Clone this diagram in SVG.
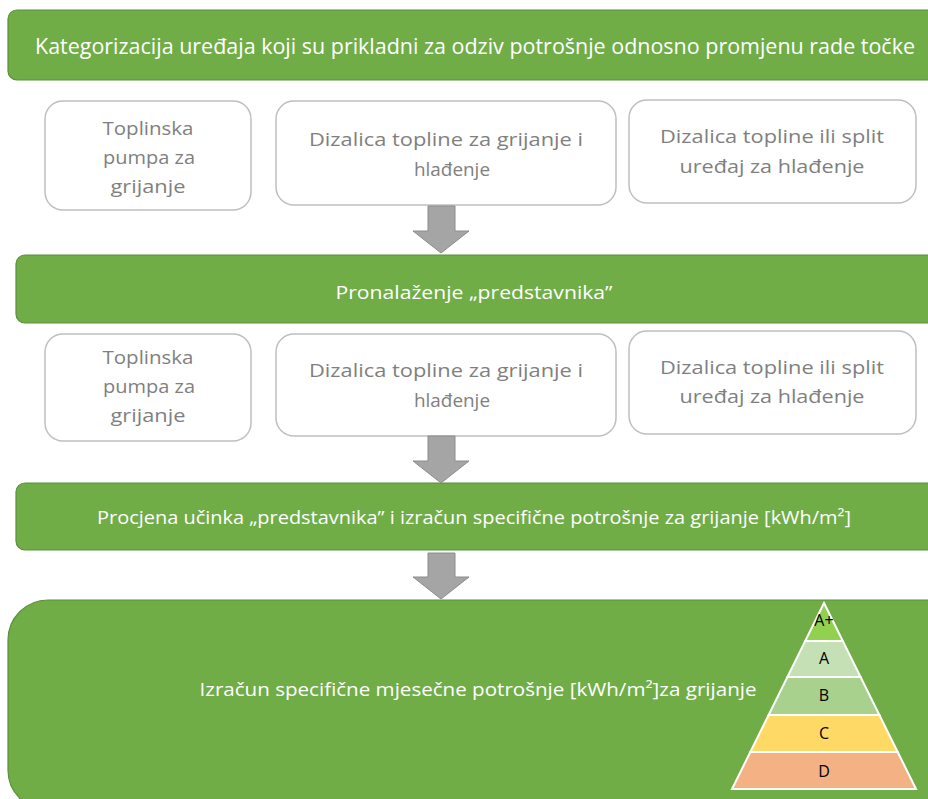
<svg xmlns="http://www.w3.org/2000/svg" width="928" height="799" viewBox="0 0 928 799">
<style>
.bar{fill:#70ad47;stroke:#5b8f3a;stroke-width:1.2}
.box{fill:#fff;stroke:#bfbfbf;stroke-width:1.5}
.bt{font-family:"Open Sans","Liberation Sans",sans-serif;font-size:18px;fill:#7f7f7f;text-anchor:middle}
.wt{font-family:"Open Sans","Liberation Sans",sans-serif;fill:#fff;text-anchor:middle}
.arr{fill:#a5a5a5;stroke:#8c8c8c;stroke-width:1}
.pt{font-family:"Open Sans","Liberation Sans",sans-serif;font-size:16px;fill:#000;text-anchor:middle}
.band{stroke:#fff;stroke-width:2}
</style>
<rect width="928" height="799" fill="#fff"/>
<g id="n1">
<rect class="bar" x="8" y="10" width="940" height="70" rx="9"/>
<text class="wt" x="475" y="54" font-size="21" textLength="880" lengthAdjust="spacingAndGlyphs">Kategorizacija uređaja koji su prikladni za odziv potrošnje odnosno promjenu rade točke</text>
</g>
<g id="n2">
<rect class="box" x="45" y="101" width="206" height="109" rx="18"/>
<text class="bt" x="148" y="135" textLength="91" lengthAdjust="spacingAndGlyphs">Toplinska</text>
<text class="bt" x="149" y="164" textLength="92" lengthAdjust="spacingAndGlyphs">pumpa za</text>
<text class="bt" x="148" y="193" textLength="75" lengthAdjust="spacingAndGlyphs">grijanje</text>
</g>
<g id="n3">
<rect class="box" x="276" y="101" width="340" height="104" rx="18"/>
<text class="bt" x="446" y="146" textLength="274" lengthAdjust="spacingAndGlyphs">Dizalica topline za grijanje i</text>
<text class="bt" x="452" y="176" textLength="76" lengthAdjust="spacingAndGlyphs">hlađenje</text>
</g>
<g id="n4">
<rect class="box" x="629" y="100" width="287" height="103" rx="18"/>
<text class="bt" x="772" y="143" textLength="224" lengthAdjust="spacingAndGlyphs">Dizalica topline ili split</text>
<text class="bt" x="772" y="173" textLength="185" lengthAdjust="spacingAndGlyphs">uređaj za hlađenje</text>
</g>
<g id="n5">
<rect class="bar" x="16" y="255" width="940" height="68" rx="9"/>
<text class="wt" x="474" y="299" font-size="19" textLength="277" lengthAdjust="spacingAndGlyphs">Pronalaženje „predstavnika”</text>
</g>
<g id="n6">
<rect class="box" x="45" y="334" width="206" height="107" rx="18"/>
<text class="bt" x="148" y="364" textLength="91" lengthAdjust="spacingAndGlyphs">Toplinska</text>
<text class="bt" x="149" y="393" textLength="92" lengthAdjust="spacingAndGlyphs">pumpa za</text>
<text class="bt" x="148" y="422" textLength="75" lengthAdjust="spacingAndGlyphs">grijanje</text>
</g>
<g id="n7">
<rect class="box" x="276" y="334" width="340" height="102" rx="18"/>
<text class="bt" x="446" y="377" textLength="274" lengthAdjust="spacingAndGlyphs">Dizalica topline za grijanje i</text>
<text class="bt" x="452" y="407" textLength="76" lengthAdjust="spacingAndGlyphs">hlađenje</text>
</g>
<g id="n8">
<rect class="box" x="629" y="331" width="287" height="103" rx="18"/>
<text class="bt" x="772" y="374" textLength="224" lengthAdjust="spacingAndGlyphs">Dizalica topline ili split</text>
<text class="bt" x="772" y="403" textLength="185" lengthAdjust="spacingAndGlyphs">uređaj za hlađenje</text>
</g>
<g id="n9">
<rect class="bar" x="16" y="483" width="940" height="67" rx="9"/>
<text class="wt" x="474" y="524" font-size="19" textLength="754" lengthAdjust="spacingAndGlyphs">Procjena učinka „predstavnika” i izračun specifične potrošnje za grijanje [kWh/m²]</text>
</g>
<g id="n10">
<rect class="bar" x="8" y="600" width="960" height="210" rx="40"/>
<text class="wt" x="478" y="696" font-size="18" textLength="557" lengthAdjust="spacingAndGlyphs">Izračun specifične mjesečne potrošnje [kWh/m²]za grijanje</text>
<g id="pyramid">
<polygon class="band" fill="#f4b183" points="750.3,752 897.7,752 916,789 732,789"/>
<polygon class="band" fill="#ffd966" points="768.6,715 879.4,715 897.7,752 750.3,752"/>
<polygon class="band" fill="#a9d18e" points="787.4,677 860.6,677 879.4,715 768.6,715"/>
<polygon class="band" fill="#c5e0b4" points="805.2,641 842.8,641 860.6,677 787.4,677"/>
<polygon class="band" fill="#92d050" points="824,603 842.8,641 805.2,641"/>
<text class="pt" x="824" y="626">A+</text>
<text class="pt" x="824" y="664">A</text>
<text class="pt" x="824" y="701">B</text>
<text class="pt" x="824" y="739">C</text>
<text class="pt" x="824" y="777">D</text>
</g>
</g>
<g id="connectors">
<polygon class="arr" points="428,206 455,206 455,231 469,231 441,253 413,231 428,231"/>
<polygon class="arr" points="428,436 455,436 455,461 469,461 441,483 413,461 428,461"/>
<polygon class="arr" points="428,553 455,553 455,577 469,577 441,599 413,577 428,577"/>
</g>
</svg>
